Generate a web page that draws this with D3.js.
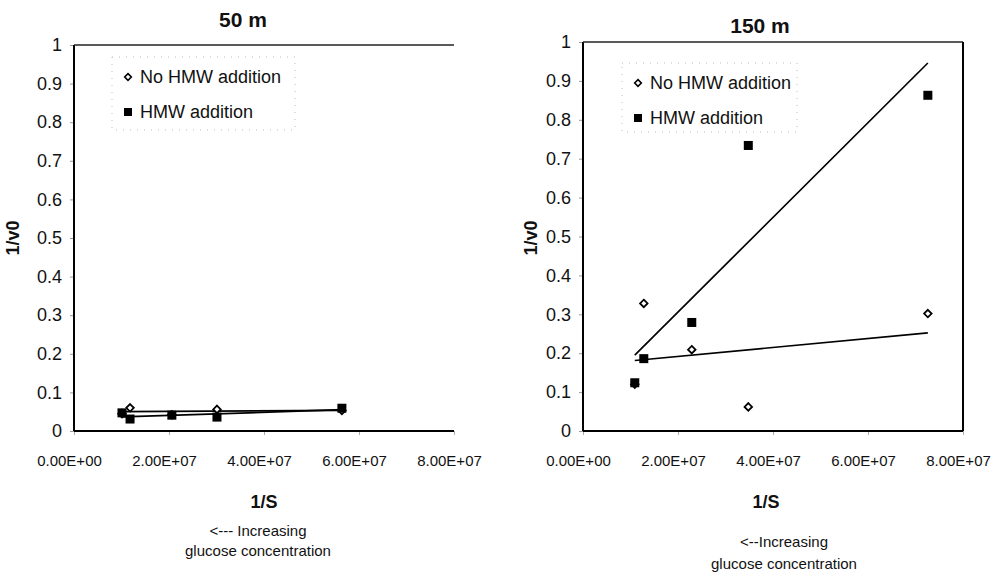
<!DOCTYPE html>
<html>
<head>
<meta charset="utf-8">
<script src="https://cdn.jsdelivr.net/npm/d3@7"></script>
<style>
  html, body { margin: 0; padding: 0; background: #fff; }
  svg { display: block; font-family: "Liberation Sans", Arial, sans-serif; }
</style>
</head>
<body>
<svg id="chart" width="1006" height="573"></svg>
<script>
// ---- data ----
const xTickValues = [0, 2e7, 4e7, 6e7, 8e7];
const yTickValues = [0, 0.1, 0.2, 0.3, 0.4, 0.5, 0.6, 0.7, 0.8, 0.9, 1];
const seriesNames = ["No HMW addition", "HMW addition"];

// 50 m panel
const x50 = [1.01e7, 1.18e7, 2.06e7, 3.01e7, 5.64e7];
const noHMW50 = [0.045, 0.060, 0.042, 0.056, 0.053];
const hmw50 = [0.047, 0.031, 0.041, 0.036, 0.059];

// 150 m panel
const x150 = [1.09e7, 1.28e7, 2.29e7, 3.48e7, 7.26e7];
const noHMW150 = [0.120, 0.328, 0.209, 0.062, 0.302];
const hmw150 = [0.124, 0.186, 0.279, 0.734, 0.863];

const panelTitles = ["50 m", "150 m"];
const xTitle = "1/S";
const yTitle = "1/v0";
const noteLines = [["<--- Increasing", "glucose concentration"], ["<--Increasing", "glucose concentration"]];

// ---- layout ----
const layouts = [
  { x0: 74, x1: 454, yTop: 45, yBot: 431, rightBorder: false, titleX: 243, titleY: 27,
    yTitleX: 12, legend: { x: 112, y: 57, w: 183, h: 73 }, xTitleX: 264, noteX: 258, noteY: [536, 556], xs: x50, a: noHMW50, b: hmw50 },
  { x0: 583, x1: 963, yTop: 42, yBot: 431, rightBorder: true, titleX: 760, titleY: 33,
    yTitleX: 530, legend: { x: 622, y: 63, w: 175, h: 69 }, xTitleX: 766, noteX: 784, noteY: [547, 569], xs: x150, a: noHMW150, b: hmw150 }
];

const svg = d3.select("#chart");

function sci(v) {
  if (v === 0) return "0.00E+00";
  const e = Math.floor(Math.log10(v));
  const m = v / Math.pow(10, e);
  return m.toFixed(2) + "E+" + String(e).padStart(2, "0");
}

function regression(xs, ys) {
  const n = xs.length;
  const mx = d3.mean(xs), my = d3.mean(ys);
  let sxy = 0, sxx = 0;
  for (let i = 0; i < n; i++) { sxy += (xs[i] - mx) * (ys[i] - my); sxx += (xs[i] - mx) ** 2; }
  const slope = sxy / sxx;
  const icpt = my - slope * mx;
  const lo = d3.min(xs), hi = d3.max(xs);
  return [[lo, icpt + slope * lo], [hi, icpt + slope * hi]];
}

const diamond = d3.symbol().type(d3.symbolDiamond2).size(36);

layouts.forEach((L, pi) => {
  const g = svg.append("g");
  const x = d3.scaleLinear().domain([0, 8e7]).range([L.x0, L.x1]);
  const y = d3.scaleLinear().domain([0, 1]).range([L.yBot, L.yTop]);

  // y axis
  const yAxis = g.append("g").attr("transform", `translate(${L.x0},0)`)
    .call(d3.axisLeft(y).tickValues(yTickValues).tickSize(4).tickPadding(8)
      .tickFormat(d => String(+d.toFixed(1))));
  yAxis.select(".domain").remove();
  yAxis.selectAll(".tick line").attr("stroke", "#999");
  yAxis.selectAll(".tick text").attr("font-size", 18).attr("fill", "#111")
    .attr("font-family", "'Liberation Sans', Arial, sans-serif");

  // x axis
  const xAxis = g.append("g").attr("transform", `translate(0,${L.yBot})`)
    .call(d3.axisBottom(x).tickValues(xTickValues).tickSize(4).tickPadding(20).tickFormat(sci));
  xAxis.select(".domain").remove();
  xAxis.selectAll(".tick line").attr("stroke", "#aaa");
  xAxis.selectAll(".tick text").attr("font-size", 15).attr("fill", "#111")
    .attr("font-family", "'Liberation Sans', Arial, sans-serif").attr("dx", -5);

  // frame
  g.append("line").attr("x1", L.x0).attr("x2", L.x0).attr("y1", L.yTop).attr("y2", L.yBot)
    .attr("stroke", "#000").attr("stroke-width", 2);
  g.append("line").attr("x1", L.x0).attr("x2", L.x1).attr("y1", L.yBot).attr("y2", L.yBot)
    .attr("stroke", "#000").attr("stroke-width", 2);
  g.append("line").attr("x1", L.x0).attr("x2", L.x1).attr("y1", L.yTop).attr("y2", L.yTop)
    .attr("stroke", "#222").attr("stroke-width", 1.5);
  if (L.rightBorder) {
    g.append("line").attr("x1", L.x1).attr("x2", L.x1).attr("y1", L.yTop).attr("y2", L.yBot)
      .attr("stroke", "#000").attr("stroke-width", 2);
  }

  // trend lines
  [L.a, L.b].forEach(ys => {
    const seg = regression(L.xs, ys);
    g.append("line")
      .attr("x1", x(seg[0][0])).attr("y1", y(seg[0][1]))
      .attr("x2", x(seg[1][0])).attr("y2", y(seg[1][1]))
      .attr("stroke", "#000").attr("stroke-width", 1.7);
  });

  // markers: diamonds (No HMW) then squares (HMW)
  g.selectAll("path.dia").data(L.xs.map((v, i) => [v, L.a[i]])).join("path")
    .attr("class", "dia")
    .attr("d", diamond)
    .attr("transform", d => `translate(${x(d[0])},${y(d[1])})`)
    .attr("fill", "#fff").attr("stroke", "#000").attr("stroke-width", 1.8);
  g.selectAll("rect.sq").data(L.xs.map((v, i) => [v, L.b[i]])).join("rect")
    .attr("class", "sq")
    .attr("x", d => x(d[0]) - 4.5).attr("y", d => y(d[1]) - 4.5)
    .attr("width", 9).attr("height", 9).attr("fill", "#000");

  // legend
  const lg = g.append("g");
  lg.append("rect").attr("x", L.legend.x).attr("y", L.legend.y)
    .attr("width", L.legend.w).attr("height", L.legend.h)
    .attr("fill", "#fff").attr("stroke", "#bbb").attr("stroke-width", 1).attr("stroke-dasharray", "1,6");
  const lx = L.legend.x + 16;
  const ly0 = L.legend.y + 20, ly1 = L.legend.y + 55;
  lg.append("path").attr("d", d3.symbol().type(d3.symbolDiamond2).size(28))
    .attr("transform", `translate(${lx},${ly0})`)
    .attr("fill", "#fff").attr("stroke", "#000").attr("stroke-width", 1.6);
  lg.append("rect").attr("x", lx - 4).attr("y", ly1 - 4).attr("width", 8).attr("height", 8).attr("fill", "#000");
  lg.append("text").attr("x", lx + 12).attr("y", ly0 + 6).attr("font-size", 18).attr("fill", "#111").text(seriesNames[0]);
  lg.append("text").attr("x", lx + 12).attr("y", ly1 + 6).attr("font-size", 18).attr("fill", "#111").text(seriesNames[1]);

  // titles
  g.append("text").attr("x", L.titleX).attr("y", L.titleY).attr("text-anchor", "middle")
    .attr("font-size", 21).attr("font-weight", "bold").attr("fill", "#111").text(panelTitles[pi]);
  g.append("text").attr("transform", `translate(${L.yTitleX + 7},238) rotate(-90)`)
    .attr("text-anchor", "middle").attr("font-size", 18).attr("font-weight", "bold").attr("fill", "#111").text(yTitle);
  g.append("text").attr("x", L.xTitleX).attr("y", 508).attr("text-anchor", "middle")
    .attr("font-size", 18).attr("font-weight", "bold").attr("fill", "#111").text(xTitle);
  noteLines[pi].forEach((t, i) => {
    g.append("text").attr("x", L.noteX).attr("y", L.noteY[i]).attr("text-anchor", "middle")
      .attr("font-size", 15).attr("fill", "#111").text(t);
  });
});
</script>
</body>
</html>
